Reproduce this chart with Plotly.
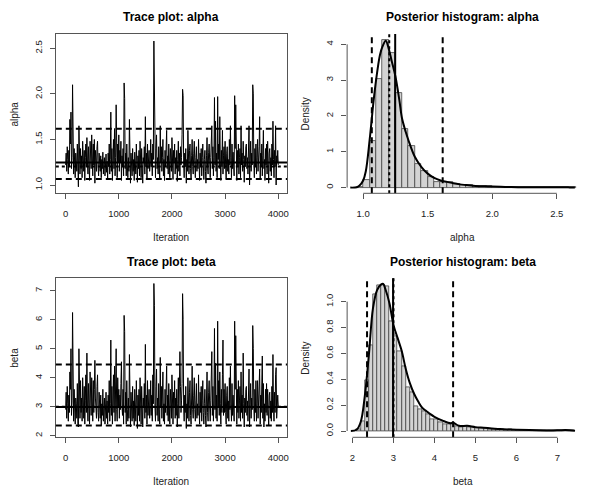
import plotly.graph_objects as go
from plotly.subplots import make_subplots

# MCMC draws, read every 10th iteration off the trace plots
iteration = list(range(0, 4001, 10))

alpha_trace = [
    1.22, 1.35, 1.15, 1.42, 1.28, 1.12, 1.38, 1.20, 1.72, 1.45, 1.80, 1.18, 1.30, 2.10, 1.25, 1.12, 1.40, 1.22, 1.08, 1.35,
    1.28, 1.15, 1.45, 1.05, 0.98, 1.65, 1.30, 1.12, 1.40, 1.18, 1.32, 1.08, 1.48, 1.22, 1.15, 1.38, 1.05, 1.30, 1.45, 1.20,
    1.52, 1.25, 1.12, 1.42, 1.30, 1.05, 1.48, 1.35, 1.18, 1.55, 1.28, 1.10, 1.45, 1.22, 1.50, 1.02, 1.38, 1.25, 1.15, 1.42,
    1.48, 1.20, 1.10, 1.35, 1.25, 1.15, 1.32, 1.08, 1.28, 1.18, 1.36, 1.12, 1.25, 1.30, 1.10, 1.22, 1.34, 1.14, 1.26, 1.06,
    1.35, 1.20, 1.45, 1.12, 1.28, 1.80, 1.15, 1.40, 1.05, 1.32, 1.50, 1.18, 1.62, 1.10, 1.30, 1.88, 1.22, 1.08, 1.45, 1.25,
    1.55, 1.15, 1.38, 1.25, 1.48, 1.05, 1.32, 1.20, 1.40, 1.10, 2.12, 1.95, 1.18, 1.35, 1.10, 1.45, 1.22, 1.08, 1.30, 1.15,
    1.72, 1.18, 1.02, 1.35, 1.25, 1.10, 1.40, 1.15, 1.28, 1.05, 1.36, 1.20, 1.12, 1.45, 1.25, 1.03, 1.32, 1.18, 1.38, 1.10,
    1.48, 1.22, 1.08, 1.40, 1.15, 1.02, 1.30, 1.25, 1.42, 1.12, 1.75, 1.20, 1.35, 1.06, 1.45, 1.18, 1.28, 1.38, 1.15, 1.22,
    1.50, 1.20, 1.35, 1.10, 1.45, 1.28, 2.58, 2.18, 1.25, 1.08, 1.40, 1.55, 1.18, 1.30, 1.12, 1.42, 1.22, 1.06, 1.65, 1.25,
    1.42, 1.15, 1.30, 1.50, 1.10, 1.28, 1.05, 1.38, 1.20, 1.45, 1.60, 1.18, 1.32, 1.12, 1.45, 1.25, 1.08, 1.40, 1.22, 1.15,
    1.52, 1.20, 1.06, 1.38, 1.25, 1.45, 1.12, 1.30, 1.18, 1.38, 1.04, 1.28, 1.48, 1.15, 1.35, 1.10, 1.42, 1.22, 1.30, 1.55,
    2.05, 1.98, 1.25, 1.08, 1.35, 1.20, 1.40, 1.02, 1.28, 1.15, 1.60, 1.22, 1.12, 1.38, 1.45, 1.18, 1.06, 1.32, 1.50, 1.20,
    1.12, 1.35, 1.48, 1.22, 1.08, 1.30, 1.42, 1.15, 1.28, 1.18, 1.50, 1.25, 1.05, 1.35, 1.20, 1.40, 1.10, 1.30, 1.45, 1.22,
    1.06, 1.28, 1.38, 1.15, 1.02, 1.32, 1.52, 1.20, 1.12, 1.36, 1.45, 1.25, 1.08, 1.30, 1.50, 1.65, 1.18, 1.42, 1.10, 1.30,
    1.96, 1.22, 1.70, 1.15, 1.35, 1.08, 1.97, 1.28, 1.45, 1.18, 1.75, 1.25, 1.05, 1.38, 1.20, 1.60, 1.12, 1.32, 1.42, 1.18,
    1.48, 1.20, 1.06, 1.35, 1.42, 1.15, 1.28, 1.12, 1.50, 1.22, 1.65, 1.30, 1.08, 1.45, 1.18, 1.36, 1.25, 1.10, 1.98, 1.40,
    1.88, 1.25, 1.05, 1.38, 1.20, 1.45, 1.12, 1.30, 1.40, 1.08, 1.65, 1.22, 1.35, 1.15, 1.48, 1.28, 1.03, 1.32, 1.20, 1.42,
    1.45, 1.18, 1.30, 1.12, 1.38, 1.65, 1.00, 1.28, 1.48, 1.15, 1.35, 1.22, 2.10, 2.00, 1.25, 1.08, 1.40, 1.20, 1.45, 1.12,
    1.30, 1.50, 1.15, 1.28, 1.42, 1.75, 1.06, 1.35, 1.20, 1.45, 1.10, 1.32, 1.60, 1.18, 1.28, 1.05, 1.40, 1.22, 1.45, 1.12,
    1.48, 1.25, 1.02, 1.35, 1.40, 1.15, 1.30, 1.10, 1.45, 1.22, 1.70, 1.28, 1.08, 1.38, 1.20, 1.65, 1.00, 1.32, 1.25, 1.38,
    1.22,
]

beta_trace = [
    2.9, 3.5, 2.6, 3.7, 3.1, 2.5, 3.4, 2.8, 4.2, 3.6, 5.0, 2.7, 3.2, 6.25, 3.0, 2.5, 3.6, 2.9, 2.4, 3.3,
    3.1, 2.6, 3.8, 2.4, 2.3, 5.0, 3.2, 2.6, 3.9, 2.8, 3.3, 2.5, 4.0, 2.9, 2.6, 3.7, 2.4, 3.2, 4.1, 2.8,
    4.85, 3.0, 2.5, 3.8, 3.2, 2.4, 4.2, 3.4, 2.7, 4.0, 3.1, 2.5, 3.9, 2.8, 3.6, 4.6, 3.3, 2.9, 2.6, 3.7,
    4.1, 2.8, 2.5, 3.5, 3.0, 2.6, 3.4, 2.35, 3.1, 2.7, 3.6, 2.5, 3.0, 3.3, 2.4, 2.9, 3.5, 2.6, 3.2, 2.4,
    3.4, 2.8, 3.9, 2.5, 3.1, 5.3, 2.7, 3.7, 2.4, 3.2, 4.1, 2.8, 4.4, 2.5, 3.3, 5.0, 2.9, 2.5, 4.0, 3.0,
    3.6, 2.6, 3.4, 2.9, 3.8, 4.55, 3.0, 2.7, 3.6, 2.4, 6.15, 5.6, 2.8, 3.5, 2.4, 3.9, 2.9, 2.5, 3.3, 2.6,
    4.8, 2.7, 2.3, 3.5, 3.0, 2.5, 3.7, 2.6, 3.2, 2.35, 3.6, 2.8, 2.5, 3.9, 3.0, 2.25, 3.4, 2.7, 3.6, 2.5,
    4.0, 2.9, 2.4, 3.7, 2.7, 2.3, 3.3, 3.0, 3.8, 2.6, 5.15, 2.8, 3.4, 2.4, 3.9, 2.7, 3.2, 3.6, 2.6, 2.9,
    3.9, 2.7, 3.4, 2.5, 4.1, 3.1, 7.25, 6.5, 3.0, 2.5, 3.7, 4.3, 2.7, 3.3, 2.5, 3.8, 2.9, 2.4, 4.7, 3.0,
    3.7, 2.6, 3.2, 4.2, 2.5, 3.1, 2.4, 3.6, 2.8, 3.9, 4.4, 2.7, 3.4, 2.5, 3.8, 3.0, 2.4, 3.6, 2.9, 2.6,
    4.1, 2.8, 2.4, 3.5, 3.0, 3.9, 2.6, 3.3, 2.7, 3.6, 2.3, 3.1, 4.0, 2.6, 3.4, 4.9, 3.7, 2.8, 3.2, 3.8,
    6.9, 6.0, 3.0, 2.5, 3.4, 2.8, 3.7, 2.25, 3.1, 2.6, 4.0, 2.9, 2.5, 3.5, 3.9, 2.7, 2.4, 3.3, 4.4, 2.9,
    2.6, 3.4, 4.0, 2.9, 2.5, 3.2, 3.8, 2.6, 3.1, 2.7, 4.1, 3.0, 2.4, 3.5, 2.8, 3.7, 2.5, 3.2, 3.9, 2.8,
    2.4, 3.1, 3.6, 2.7, 2.3, 3.3, 4.2, 2.8, 2.5, 3.5, 3.9, 3.0, 2.5, 3.2, 4.0, 4.9, 2.7, 3.7, 2.5, 3.2,
    5.7, 2.9, 4.5, 2.6, 3.4, 2.5, 5.95, 3.0, 3.9, 2.7, 4.2, 3.1, 2.4, 3.6, 2.8, 4.1, 5.3, 2.7, 3.6, 2.8,
    3.8, 2.8, 2.4, 3.4, 3.7, 2.6, 3.2, 2.5, 4.0, 2.9, 4.4, 3.1, 2.5, 3.8, 2.7, 3.4, 3.0, 2.5, 5.95, 3.6,
    5.45, 3.0, 2.4, 3.6, 2.8, 3.9, 2.6, 3.2, 3.7, 2.5, 4.2, 2.8, 3.4, 2.6, 4.85, 3.1, 2.3, 3.3, 2.8, 3.6,
    3.7, 2.7, 3.2, 2.5, 3.5, 4.3, 2.3, 3.1, 3.8, 2.6, 3.3, 2.9, 5.8, 5.0, 3.0, 2.5, 3.6, 2.8, 3.9, 2.5,
    3.1, 3.9, 2.6, 3.2, 3.6, 4.3, 2.4, 3.4, 2.8, 3.7, 4.75, 2.6, 3.8, 2.3, 3.1, 2.5, 3.6, 2.8, 3.8, 2.7,
    3.6, 2.9, 2.35, 3.4, 3.5, 2.6, 3.2, 2.5, 3.7, 2.8, 4.8, 3.0, 2.5, 3.5, 2.8, 4.1, 4.35, 2.6, 3.0, 3.4,
    3.0,
]

# posterior summaries: mean, median, 95% interval
alpha_mean, alpha_median, alpha_ci = 1.248, 1.202, [1.067, 1.616]
beta_mean, beta_median, beta_ci = 2.99, 3.0, [2.355, 4.455]

# histograms (density scale)
alpha_bin_start = [0.95, 1.00, 1.05, 1.10, 1.15, 1.20, 1.25, 1.30, 1.35, 1.40,
                   1.45, 1.50, 1.55, 1.60, 1.65, 1.70, 1.75, 1.80, 1.85, 1.90,
                   1.95, 2.00, 2.05, 2.10, 2.15, 2.20, 2.25, 2.30, 2.35, 2.40,
                   2.45, 2.50, 2.55, 2.60]
alpha_density = [0.02, 0.21, 1.31, 3.04, 4.12, 3.75, 2.63, 1.63, 1.15, 0.66,
                 0.45, 0.31, 0.17, 0.16, 0.15, 0.10, 0.08, 0.06, 0.04, 0.04,
                 0.04, 0.03, 0.02, 0.02, 0.015, 0.01, 0.01, 0.01, 0.01, 0.01,
                 0.01, 0.015, 0.01, 0.005]

beta_bin_start = [2.1, 2.2, 2.3, 2.4, 2.5, 2.6, 2.7, 2.8, 2.9, 3.0,
                  3.1, 3.2, 3.3, 3.4, 3.5, 3.6, 3.7, 3.8, 3.9, 4.0,
                  4.1, 4.2, 4.3, 4.4, 4.5, 4.6, 4.7, 4.8, 4.9, 5.0,
                  5.1, 5.2, 5.3, 5.4, 5.5, 5.6, 5.7, 5.8, 5.9, 6.0,
                  6.1, 6.2, 6.3, 6.4, 6.5, 6.6, 6.7, 6.8, 6.9, 7.0,
                  7.1, 7.2, 7.3]
beta_density = [0.01, 0.075, 0.39, 0.66, 1.06, 1.13, 1.13, 1.12, 0.85, 0.73,
                0.62, 0.50, 0.34, 0.30, 0.19, 0.17, 0.15, 0.13, 0.09, 0.09,
                0.07, 0.05, 0.05, 0.05, 0.035, 0.03, 0.035, 0.03, 0.025, 0.02,
                0.02, 0.02, 0.015, 0.012, 0.01, 0.01, 0.008, 0.01, 0.008, 0.005,
                0.005, 0.005, 0.003, 0.003, 0.003, 0.002, 0.003, 0.003, 0.003, 0.002,
                0.003, 0.003, 0.003]

# kernel density curves
alpha_kde_x = [0.90, 0.95, 0.97, 1.00, 1.02, 1.05, 1.08, 1.10, 1.13, 1.15,
               1.175, 1.20, 1.22, 1.25, 1.28, 1.30, 1.33, 1.35, 1.40, 1.45,
               1.50, 1.55, 1.60, 1.65, 1.70, 1.75, 1.80, 1.85, 1.90, 1.95,
               2.00, 2.10, 2.20, 2.30, 2.40, 2.50, 2.55, 2.60, 2.64]
alpha_kde_y = [0.0, 0.01, 0.05, 0.2, 0.45, 1.33, 2.4, 3.0, 3.7, 3.94,
               4.1, 3.85, 3.55, 3.1, 2.45, 1.95, 1.55, 1.33, 0.86, 0.58,
               0.39, 0.27, 0.2, 0.16, 0.12, 0.09, 0.07, 0.05, 0.04, 0.035,
               0.03, 0.02, 0.012, 0.01, 0.008, 0.01, 0.012, 0.006, 0.0]

beta_kde_x = [1.96, 2.1, 2.2, 2.3, 2.4, 2.5, 2.6, 2.7, 2.75, 2.8,
              2.9, 3.0, 3.1, 3.2, 3.3, 3.4, 3.5, 3.6, 3.7, 3.8,
              3.9, 4.0, 4.2, 4.4, 4.45, 4.6, 4.8, 5.0, 5.2, 5.4,
              5.6, 5.8, 6.0, 6.5, 7.0, 7.2, 7.43]
beta_kde_y = [0.0, 0.01, 0.07, 0.27, 0.59, 0.95, 1.09, 1.134, 1.137, 1.10,
              0.99, 0.82, 0.72, 0.62, 0.48, 0.37, 0.29, 0.23, 0.18, 0.155,
              0.13, 0.11, 0.08, 0.06, 0.065, 0.04, 0.04, 0.03, 0.025, 0.02,
              0.015, 0.012, 0.01, 0.006, 0.005, 0.008, 0.002]

W, H = 594, 489
AX = '#555555'
TXT = '#222222'
FONT = 'Liberation Sans, Arial, sans-serif'


def px_dom(a, b, size, flip=False):
    if flip:
        return [1 - b / size, 1 - a / size]
    return [a / size, b / size]


fig = make_subplots(rows=2, cols=2)

# trace plots
fig.add_trace(go.Scatter(x=iteration, y=alpha_trace, mode='lines',
                         line=dict(color='black', width=1)), row=1, col=1)
fig.add_trace(go.Scatter(x=iteration, y=beta_trace, mode='lines',
                         line=dict(color='black', width=1)), row=2, col=1)

# histograms
bar_style = dict(color='#d3d3d3', line=dict(color='#444444', width=0.8))
fig.add_trace(go.Bar(x=alpha_bin_start, y=alpha_density, width=0.05, offset=0,
                     marker=bar_style), row=1, col=2)
fig.add_trace(go.Bar(x=beta_bin_start, y=beta_density, width=0.1, offset=0,
                     marker=bar_style), row=2, col=2)
fig.add_trace(go.Scatter(x=alpha_kde_x, y=alpha_kde_y, mode='lines',
                         line=dict(color='black', width=2, shape='spline')), row=1, col=2)
fig.add_trace(go.Scatter(x=beta_kde_x, y=beta_kde_y, mode='lines',
                         line=dict(color='black', width=2, shape='spline')), row=2, col=2)

# reference lines
dash_ci = '6px,4px'
for ax_n, mean, median, ci in [(1, alpha_mean, alpha_median, alpha_ci),
                               (3, beta_mean, beta_median, beta_ci)]:
    xr = 'x%d domain' % ax_n if ax_n > 1 else 'x domain'
    yr = 'y%d' % ax_n if ax_n > 1 else 'y'
    for v in ci:
        fig.add_shape(type='line', xref=xr, yref=yr, x0=0, x1=1, y0=v, y1=v,
                      line=dict(color='black', width=2, dash=dash_ci))
    fig.add_shape(type='line', xref=xr, yref=yr, x0=0, x1=1, y0=mean, y1=mean,
                  line=dict(color='black', width=2))
    fig.add_shape(type='line', xref=xr, yref=yr, x0=0, x1=1, y0=median, y1=median,
                  line=dict(color='black', width=2, dash='dot'))

for ax_n, mean, median, ci in [(2, alpha_mean, alpha_median, alpha_ci),
                               (4, beta_mean, beta_median, beta_ci)]:
    xr, yr = 'x%d' % ax_n, 'y%d domain' % ax_n
    for v in ci:
        fig.add_shape(type='line', xref=xr, yref=yr, x0=v, x1=v, y0=0, y1=1,
                      line=dict(color='black', width=2, dash=dash_ci))
    fig.add_shape(type='line', xref=xr, yref=yr, x0=mean, x1=mean, y0=0, y1=1,
                  line=dict(color='black', width=2))
    fig.add_shape(type='line', xref=xr, yref=yr, x0=median, x1=median, y0=0, y1=1,
                  line=dict(color='black', width=2, dash='dot'))

# R-style axis lines on histograms (only from first to last tick)
for ax_n, xt, yt in [(2, [1.0, 2.5], [0, 4]), (4, [2, 7], [0, 1.0])]:
    fig.add_shape(type='line', xref='x%d' % ax_n, yref='y%d domain' % ax_n,
                  x0=xt[0], x1=xt[1], y0=0, y1=0, line=dict(color=AX, width=1))
    fig.add_shape(type='line', xref='x%d domain' % ax_n, yref='y%d' % ax_n,
                  x0=0, x1=0, y0=yt[0], y1=yt[1], line=dict(color=AX, width=1))

tick_font = dict(family=FONT, size=9.5, color=TXT)
common = dict(showgrid=False, zeroline=False, ticks='outside', ticklen=5,
              tickcolor=AX, tickwidth=1, tickfont=tick_font)

top_y = px_dom(34, 193.3, H, flip=True)
bot_y = px_dom(278.3, 437.3, H, flip=True)
left_x = px_dom(56, 288, W)
right_x = px_dom(348.3, 580.3, W)

fig.update_layout(
    xaxis=dict(domain=left_x, range=[-185, 4165], tickvals=[0, 1000, 2000, 3000, 4000],
               showline=True, mirror=True, linecolor=AX, linewidth=1,
               ticklabelstandoff=6, **common),
    yaxis=dict(domain=top_y, range=[0.909, 2.657], tickvals=[1.0, 1.5, 2.0, 2.5],
               ticktext=['1.0', '1.5', '2.0', '2.5'], tickangle=-90,
               showline=True, mirror=True, linecolor=AX, linewidth=1,
               ticklabelstandoff=4, **common),
    xaxis2=dict(domain=right_x, range=[0.8757, 2.667], tickvals=[1.0, 1.5, 2.0, 2.5],
                ticktext=['1.0', '1.5', '2.0', '2.5'], showline=False,
                ticklabelstandoff=6, **common),
    yaxis2=dict(domain=top_y, range=[-0.159, 4.288], tickvals=[0, 1, 2, 3, 4],
                tickangle=-90, showline=False, ticklabelstandoff=4, **common),
    xaxis3=dict(domain=left_x, range=[-185, 4165], tickvals=[0, 1000, 2000, 3000, 4000],
                showline=True, mirror=True, linecolor=AX, linewidth=1,
                ticklabelstandoff=6, **common),
    yaxis3=dict(domain=bot_y, range=[1.945, 7.43], tickvals=[2, 3, 4, 5, 6, 7],
                tickangle=-90, showline=True, mirror=True, linecolor=AX, linewidth=1,
                ticklabelstandoff=4, **common),
    xaxis4=dict(domain=right_x, range=[1.869, 7.511], tickvals=[2, 3, 4, 5, 6, 7],
                showline=False, ticklabelstandoff=6, **common),
    yaxis4=dict(domain=bot_y, range=[-0.0487, 1.181], tickvals=[0, 0.2, 0.4, 0.6, 0.8, 1.0],
                ticktext=['0.0', '0.2', '0.4', '0.6', '0.8', '1.0'], tickangle=-90,
                showline=False, ticklabelstandoff=4, **common),
)

title_font = dict(family=FONT, size=12, color='black')
label_font = dict(family=FONT, size=10, color=TXT)
notes = [
    ('Trace plot: alpha', 172, 17, title_font, 0),
    ('Posterior histogram: alpha', 464.3, 17, title_font, 0),
    ('Trace plot: beta', 172, 262, title_font, 0),
    ('Posterior histogram: beta', 464.3, 262, title_font, 0),
    ('Iteration', 172, 237, label_font, 0),
    ('alpha', 464.3, 237, label_font, 0),
    ('Iteration', 172, 481, label_font, 0),
    ('beta', 464.3, 481, label_font, 0),
    ('alpha', 15, 113.6, label_font, -90),
    ('Density', 307, 113.6, label_font, -90),
    ('beta', 15, 357.8, label_font, -90),
    ('Density', 307, 357.8, label_font, -90),
]
for text, x, y, f, ang in notes:
    if f is title_font:
        text = '<b>%s</b>' % text
    fig.add_annotation(text=text, x=x / W, y=1 - y / H, xref='paper', yref='paper',
                       showarrow=False, font=f, textangle=ang,
                       xanchor='center', yanchor='middle')

fig.update_layout(width=W, height=H, margin=dict(l=0, r=0, t=0, b=0),
                  plot_bgcolor='white', paper_bgcolor='white',
                  showlegend=False, bargap=0, hovermode=False)

# drop the page's default body margin so the figure sits at the window corner
fig.write_html('out.html', config={'displayModeBar': False},
               post_script="document.body.style.margin='0';document.body.style.overflow='hidden';")
